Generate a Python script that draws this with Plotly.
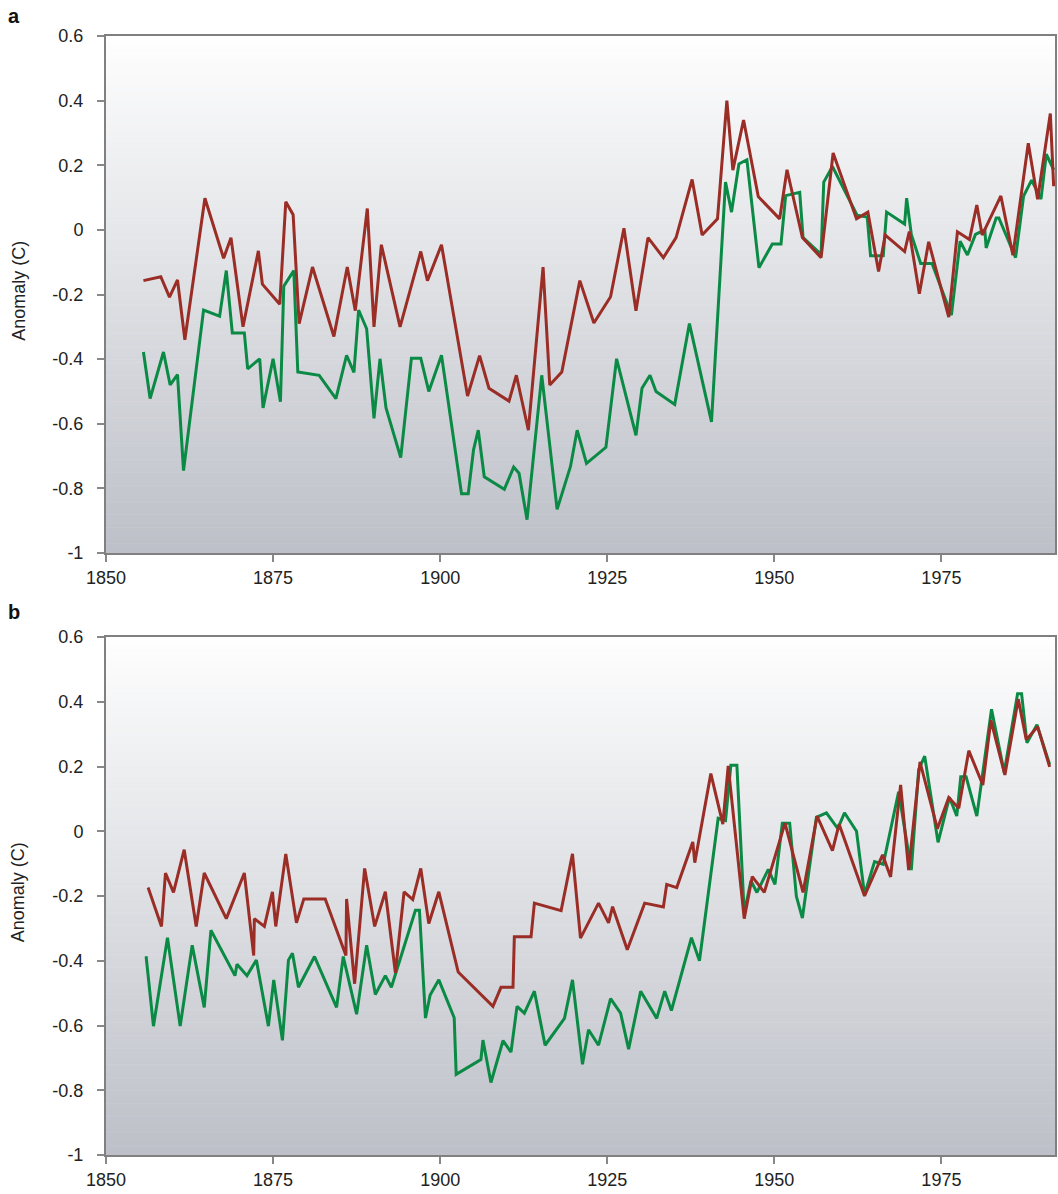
import plotly.graph_objects as go
from plotly.subplots import make_subplots

# ---------------- Data ----------------
a_red_year = [1855.6, 1858.2, 1859.5, 1860.7, 1861.8, 1864.8, 1867.6, 1868.7, 1870.5, 1872.8,
              1873.4, 1876.0, 1876.9, 1878.0, 1878.9, 1880.9, 1884.1, 1886.1, 1887.3, 1889.1,
              1890.1, 1891.2, 1894.0, 1897.1, 1898.1, 1900.2, 1904.1, 1905.9, 1907.3, 1910.3,
              1911.4, 1913.2, 1915.4, 1916.4, 1918.2, 1920.9, 1923.0, 1925.5, 1927.5, 1929.3,
              1931.1, 1933.4, 1935.3, 1937.7, 1939.2, 1941.5, 1942.9, 1943.8, 1945.4, 1947.6,
              1950.8, 1951.9, 1954.2, 1957.0, 1958.8, 1962.3, 1964.0, 1965.6, 1966.6, 1969.5,
              1970.2, 1971.7, 1973.1, 1976.1, 1977.4, 1979.2, 1980.3, 1981.1, 1983.9, 1985.7,
              1988.0, 1989.4, 1991.3, 1991.8]
a_red_val = [-0.157, -0.145, -0.208, -0.155, -0.34, 0.098, -0.088, -0.024, -0.30, -0.065,
             -0.168, -0.23, 0.087, 0.047, -0.29, -0.115, -0.33, -0.115, -0.25, 0.066,
             -0.30, -0.046, -0.30, -0.067, -0.157, -0.046, -0.514, -0.389, -0.49, -0.53,
             -0.45, -0.62, -0.115, -0.48, -0.44, -0.157, -0.288, -0.207, 0.005, -0.25,
             -0.024, -0.086, -0.024, 0.156, -0.016, 0.034, 0.40, 0.185, 0.34, 0.103,
             0.034, 0.186, -0.024, -0.086, 0.238, 0.034, 0.055, -0.129, -0.016, -0.067,
             -0.005, -0.198, -0.037, -0.27, -0.006, -0.03, 0.077, -0.016, 0.105, -0.078,
             0.268, 0.095, 0.36, 0.135]

a_green_year = [1855.6, 1856.6, 1858.6, 1859.6, 1860.7, 1861.6, 1864.6, 1867.0, 1868.0, 1868.9,
                1870.7, 1871.2, 1873.0, 1873.5, 1875.0, 1876.1, 1876.6, 1878.1, 1878.7, 1881.9,
                1884.4, 1886.0, 1887.1, 1887.8, 1889.0, 1890.1, 1891.0, 1891.9, 1894.1, 1895.7,
                1897.1, 1898.3, 1900.2, 1903.2, 1904.2, 1905.0, 1905.7, 1906.6, 1909.6, 1911.0,
                1911.8, 1913.0, 1915.2, 1917.5, 1919.5, 1920.5, 1921.9, 1924.8, 1926.4, 1929.3,
                1930.2, 1931.4, 1932.3, 1935.1, 1937.3, 1940.6, 1942.7, 1943.6, 1944.7, 1945.9,
                1947.7, 1949.7, 1951.0, 1951.7, 1953.8, 1954.3, 1957.0, 1957.4, 1958.7, 1962.4,
                1963.9, 1964.4, 1966.3, 1966.8, 1969.5, 1969.8, 1970.5, 1971.9, 1973.6, 1976.5,
                1977.8, 1978.9, 1980.1, 1981.5, 1981.7, 1983.2, 1983.6, 1986.1, 1987.3, 1988.5,
                1989.9, 1990.7, 1991.8]
a_green_val = [-0.378, -0.522, -0.378, -0.48, -0.448, -0.745, -0.248, -0.267, -0.126, -0.319,
               -0.319, -0.43, -0.399, -0.551, -0.399, -0.532, -0.174, -0.126, -0.44, -0.45,
               -0.522, -0.388, -0.441, -0.248, -0.306, -0.583, -0.399, -0.551, -0.705, -0.397,
               -0.397, -0.50, -0.388, -0.817, -0.817, -0.68, -0.62, -0.764, -0.803, -0.734,
               -0.753, -0.897, -0.45, -0.865, -0.732, -0.62, -0.723, -0.673, -0.399, -0.636,
               -0.49, -0.45, -0.50, -0.54, -0.29, -0.594, 0.148, 0.055, 0.204, 0.217,
               -0.117, -0.044, -0.044, 0.106, 0.116, -0.024, -0.076, 0.148, 0.196, 0.045,
               0.04, -0.08, -0.08, 0.055, 0.018, 0.098, -0.014, -0.104, -0.104, -0.264,
               -0.035, -0.078, -0.014, 0.0, -0.056, 0.037, 0.037, -0.086, 0.105, 0.154,
               0.095, 0.234, 0.186]

b_red_year = [1856.3, 1858.3, 1858.9, 1860.1, 1861.7, 1863.5, 1864.7, 1868.0, 1870.7, 1872.1,
              1872.2, 1873.7, 1874.9, 1875.4, 1876.9, 1878.5, 1879.6, 1882.8, 1885.9, 1886.0,
              1887.2, 1888.7, 1890.2, 1891.8, 1893.3, 1894.6, 1895.9, 1897.1, 1898.3, 1899.8,
              1902.7, 1907.9, 1909.1, 1910.9, 1911.1, 1913.6, 1914.1, 1918.1, 1919.8, 1921.0,
              1923.7, 1925.2, 1925.8, 1928.0, 1930.6, 1933.4, 1933.9, 1935.4, 1937.8, 1938.1,
              1940.5, 1942.3, 1943.1, 1945.5, 1946.7, 1948.5, 1951.6, 1954.3, 1956.4, 1958.7,
              1959.7, 1963.5, 1966.2, 1967.4, 1968.9, 1970.1, 1971.8, 1974.4, 1976.1, 1977.6,
              1979.1, 1981.2, 1982.4, 1984.5, 1986.5, 1987.7, 1989.4, 1991.2]
b_red_val = [-0.174, -0.294, -0.129, -0.189, -0.057, -0.294, -0.129, -0.27, -0.129, -0.384,
             -0.27, -0.294, -0.187, -0.294, -0.07, -0.283, -0.209, -0.209, -0.384, -0.209,
             -0.471, -0.115, -0.294, -0.187, -0.437, -0.187, -0.211, -0.115, -0.285, -0.187,
             -0.435, -0.541, -0.482, -0.482, -0.326, -0.326, -0.222, -0.245, -0.07, -0.33,
             -0.222, -0.283, -0.233, -0.366, -0.222, -0.234, -0.164, -0.174, -0.033, -0.097,
             0.178, 0.022, 0.202, -0.27, -0.14, -0.189, 0.025, -0.189, 0.047, -0.06,
             0.022, -0.2, -0.073, -0.141, 0.143, -0.12, 0.214, 0.008, 0.104, 0.071,
             0.249, 0.143, 0.343, 0.174, 0.408, 0.283, 0.323, 0.199]

b_green_year = [1856.0, 1857.1, 1859.2, 1861.1, 1862.9, 1864.7, 1865.7, 1869.3, 1869.6, 1871.1,
                1872.5, 1874.3, 1875.1, 1876.4, 1877.3, 1877.9, 1878.8, 1881.2, 1884.5, 1885.5,
                1887.5, 1889.0, 1890.3, 1891.8, 1892.7, 1896.3, 1896.9, 1897.8, 1898.5, 1899.8,
                1902.1, 1902.4, 1906.1, 1906.4, 1907.6, 1909.4, 1910.6, 1911.5, 1912.6, 1914.1,
                1915.7, 1918.6, 1919.8, 1921.3, 1922.2, 1923.7, 1925.5, 1927.0, 1928.2, 1930.0,
                1932.4, 1933.6, 1934.6, 1937.6, 1938.8, 1941.6, 1942.7, 1943.5, 1944.4, 1945.5,
                1946.5, 1947.4, 1949.1, 1950.1, 1951.2, 1952.3, 1953.3, 1954.2, 1956.3, 1957.8,
                1959.5, 1960.5, 1962.3, 1963.5, 1965.0, 1966.3, 1968.6, 1970.5, 1971.6, 1972.5,
                1974.5, 1976.2, 1977.3, 1977.9, 1978.7, 1980.3, 1982.5, 1984.4, 1986.4, 1987.0,
                1987.8, 1989.3, 1991.2]
b_green_val = [-0.386, -0.602, -0.329, -0.602, -0.352, -0.544, -0.306, -0.446, -0.411, -0.446,
               -0.398, -0.602, -0.459, -0.646, -0.398, -0.377, -0.482, -0.387, -0.544, -0.387,
               -0.565, -0.352, -0.504, -0.446, -0.482, -0.244, -0.244, -0.577, -0.506, -0.459,
               -0.576, -0.751, -0.705, -0.645, -0.776, -0.647, -0.682, -0.541, -0.562, -0.494,
               -0.661, -0.578, -0.459, -0.72, -0.613, -0.661, -0.517, -0.562, -0.673, -0.494,
               -0.578, -0.494, -0.554, -0.329, -0.40, 0.04, 0.033, 0.204, 0.204, -0.253,
               -0.153, -0.189, -0.118, -0.164, 0.025, 0.025, -0.201, -0.268, 0.043, 0.057,
               0.008, 0.057, 0.0, -0.196, -0.094, -0.102, 0.122, -0.12, 0.19, 0.232,
               -0.034, 0.105, 0.047, 0.168, 0.168, 0.047, 0.377, 0.182, 0.425, 0.425,
               0.273, 0.329, 0.206]

x_tick_vals = [1850, 1875, 1900, 1925, 1950, 1975]
x_tick_text = ["1850", "1875", "1900", "1925", "1950", "1975"]
y_tick_vals = [0.6, 0.4, 0.2, 0.0, -0.2, -0.4, -0.6, -0.8, -1.0]
y_tick_text = ["0.6", "0.4", "0.2", "0", "-0.2", "-0.4", "-0.6", "-0.8", "-1"]
panel_labels = ["a", "b"]
y_title = "Anomaly (C)"

RED = "#9A2D26"
GREEN = "#0A8A45"

# ---------------- Figure geometry (page body margin removed below) ----------------
W, H = 1058, 1194
L = 106
top_px, bot_px = 36, 1155
span = bot_px - top_px
plot_w = W - L - 1
a_dom = [(bot_px - 553) / span, 1.0]
b_dom = [0.0, (bot_px - 637) / span]

fig = make_subplots(rows=2, cols=1)

series = [
    (1, a_red_year, a_red_val, RED),
    (1, a_green_year, a_green_val, GREEN),
    (2, b_red_year, b_red_val, RED),
    (2, b_green_year, b_green_val, GREEN),
]
order = [1, 0, 3, 2]
for i in order:
    row, xs, ys, col = series[i]
    fig.add_trace(go.Scatter(x=xs, y=ys, mode="lines",
                             line=dict(color=col, width=3),
                             showlegend=False, hoverinfo="skip"),
                  row=row, col=1)

# gradient background via thin horizontal bands
shapes = []
n = 160
top_rgb = (254, 254, 254)
bot_rgb = (189, 192, 200)
for ax in ["", "2"]:
    for k in range(n):
        t = k / (n - 1)
        r = round(top_rgb[0] + (bot_rgb[0] - top_rgb[0]) * t)
        g = round(top_rgb[1] + (bot_rgb[1] - top_rgb[1]) * t)
        b = round(top_rgb[2] + (bot_rgb[2] - top_rgb[2]) * t)
        shapes.append(dict(type="rect", xref=f"x{ax} domain", yref=f"y{ax} domain",
                           x0=0, x1=1, y0=1 - (k + 1) / n - 0.001, y1=1 - k / n,
                           layer="below", line=dict(width=0),
                           fillcolor=f"rgb({r},{g},{b})"))

fig.update_layout(
    width=W, height=H,
    margin=dict(l=L, r=1, t=top_px, b=H - bot_px),
    paper_bgcolor="white", plot_bgcolor="rgba(0,0,0,0)",
    font=dict(family="Liberation Sans, Arial, sans-serif", size=18, color="#222"),
    shapes=shapes,
)

for idx, (xa, ya, dom) in enumerate([("xaxis", "yaxis", a_dom), ("xaxis2", "yaxis2", b_dom)]):
    fig.layout[xa].update(range=[1850, 1992], tickvals=x_tick_vals, ticktext=x_tick_text,
                          ticks="outside", ticklen=7, tickcolor="#888", tickwidth=1.5,
                          showline=True, linecolor="#808080", linewidth=2, mirror=True,
                          showgrid=False, zeroline=False, anchor="y" if idx == 0 else "y2",
                          tickfont=dict(size=18))
    fig.layout[ya].update(range=[-1, 0.6], domain=dom, tickvals=y_tick_vals, ticktext=y_tick_text,
                          ticks="outside", ticklen=7, tickcolor="#888", tickwidth=1.5,
                          showline=True, linecolor="#808080", linewidth=2, mirror=True,
                          showgrid=False, zeroline=False, tickfont=dict(size=18),
                          ticklabelstandoff=10)

# y-axis titles
for dom in (a_dom, b_dom):
    fig.add_annotation(text=y_title, xref="paper", yref="paper",
                       x=(18 - L) / plot_w, y=(dom[0] + dom[1]) / 2 + 4 / span,
                       xanchor="center", yanchor="middle", textangle=-90, showarrow=False,
                       font=dict(size=18, color="#222"))

# panel letters
for lab, ypx in zip(panel_labels, [3, 599]):
    fig.add_annotation(text=f"<b>{lab}</b>", xref="paper", yref="paper",
                       x=(6 - L) / plot_w, y=(bot_px - ypx) / span,
                       xanchor="left", yanchor="top", showarrow=False,
                       font=dict(size=20, color="#111"))

fig.write_html(
    "out.html",
    config={"displayModeBar": False},
    post_script="document.body.style.margin='0';"
                "document.documentElement.style.overflow='hidden';"
                "document.body.style.overflow='hidden';",
)
